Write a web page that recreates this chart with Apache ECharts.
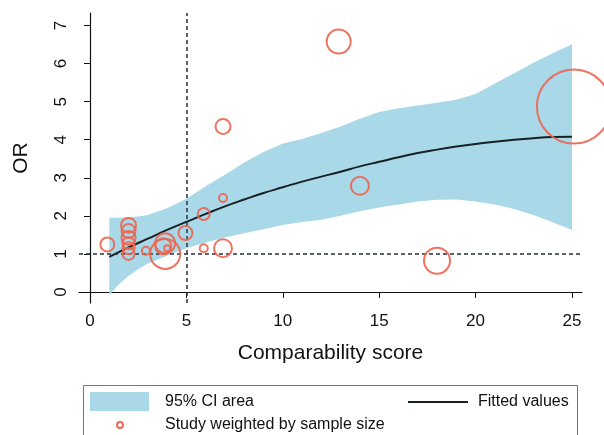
<!DOCTYPE html>
<html>
<head>
<meta charset="utf-8">
<title>OR vs comparability score</title>
<script src="https://cdn.jsdelivr.net/npm/echarts@6/dist/echarts.min.js"></script>
<style>
  html, body { margin: 0; padding: 0; background: #fff; }
  #chart { width: 604px; height: 435px; }
</style>
</head>
<body>
<div id="chart"></div>
<script>
// 95% CI band of the fitted curve
var ciX = [1, 1.5, 2, 2.5, 3, 4, 5, 6, 7, 8, 9, 10, 11, 12, 13, 14, 15, 16, 17, 18, 19, 20, 21, 22, 23, 24, 25];
var ciLower = [-0.08, 0.2, 0.42, 0.6, 0.75, 0.95, 1.15, 1.3, 1.43, 1.54, 1.65, 1.76, 1.84, 1.9, 2.0, 2.12, 2.22, 2.3, 2.38, 2.42, 2.43, 2.38, 2.3, 2.18, 2.02, 1.83, 1.63];
var ciUpper = [1.95, 1.95, 1.96, 1.98, 2.02, 2.2, 2.45, 2.78, 3.08, 3.4, 3.68, 3.9, 4.02, 4.18, 4.35, 4.55, 4.73, 4.83, 4.9, 4.97, 5.05, 5.2, 5.48, 5.75, 6.02, 6.27, 6.51];

// fitted values
var fitX = [1, 2, 3, 4, 5, 6, 7, 8, 9, 10, 11, 12, 13, 14, 15, 16, 17, 18, 19, 20, 21, 22, 23, 24, 25];
var fitY = [0.92, 1.17, 1.4, 1.63, 1.84, 2.05, 2.25, 2.43, 2.6, 2.75, 2.9, 3.03, 3.16, 3.3, 3.42, 3.54, 3.65, 3.74, 3.82, 3.89, 3.95, 4.0, 4.04, 4.07, 4.08];

// studies: score, OR, relative weight (sample size)
var studyScore = [0.9, 2, 2, 2, 2, 2, 2, 2.9, 3.9, 3.9, 3.8, 4.0, 4.95, 5.9, 5.9, 6.9, 6.9, 6.9, 12.9, 14, 18, 25.1];
var studyOR = [1.25, 1.75, 1.6, 1.42, 1.28, 1.15, 1.0, 1.08, 1.0, 1.28, 1.2, 1.15, 1.55, 1.15, 2.05, 2.47, 1.15, 4.35, 6.58, 2.79, 0.82, 4.87];
var studyWeight = [49, 56, 49, 49, 36, 36, 36, 16, 225, 100, 64, 9, 49, 16, 36, 16, 81, 56, 144, 81, 169, 1369];

var xTicks = [0, 5, 10, 15, 20, 25];
var yTicks = [0, 1, 2, 3, 4, 5, 6, 7];
var refX = 5;
var refY = 1;

var chart = echarts.init(document.getElementById('chart'));
var font = 'Liberation Sans, Arial, Helvetica, sans-serif';
var bandColor = '#a9d8e8';
var circleColor = '#ec6550';

var bandData = ciX.map(function (x, i) { return [x, ciLower[i], ciUpper[i]]; });
var fitData = fitX.map(function (x, i) { return [x, fitY[i]]; });
var studyData = studyScore.map(function (x, i) { return [x, studyOR[i], studyWeight[i]]; });

var option = {
    animation: false,
    backgroundColor: '#fff',
    textStyle: { fontFamily: font },
    grid: { left: 79, right: 22, top: 13, bottom: 132 },
    xAxis: {
        type: 'value',
        min: -0.57,
        max: 25.52,
        name: 'Comparability score',
        nameLocation: 'middle',
        nameGap: 40,
        nameTextStyle: { fontSize: 21, color: '#111', fontFamily: font },
        splitLine: { show: false },
        axisLine: { show: true, lineStyle: { color: '#111', width: 1.2 } },
        axisTick: { show: true, length: 6, customValues: xTicks, lineStyle: { color: '#111' } },
        axisLabel: { customValues: xTicks, fontSize: 17, color: '#111', margin: 10, fontFamily: font }
    },
    yAxis: {
        type: 'value',
        min: -0.29,
        max: 7.33,
        name: 'OR',
        nameLocation: 'middle',
        nameRotate: 90,
        nameGap: 47,
        nameTextStyle: { fontSize: 21, color: '#111', fontFamily: font },
        splitLine: { show: false },
        axisLine: { show: true, lineStyle: { color: '#111', width: 1.2 } },
        axisTick: { show: true, length: 6, customValues: yTicks, lineStyle: { color: '#111' } },
        axisLabel: { customValues: yTicks, rotate: 90, fontSize: 17, color: '#111', margin: 9, fontFamily: font }
    },
    series: [
        {
            name: '95% CI area',
            type: 'custom',
            data: bandData,
            encode: { x: 0, y: [1, 2] },
            z: 1,
            renderItem: function (params, api) {
                if (params.dataIndex !== 0) return;
                var pts = [];
                for (var i = 0; i < bandData.length; i++) {
                    pts.push(api.coord([bandData[i][0], bandData[i][2]]));
                }
                for (var j = bandData.length - 1; j >= 0; j--) {
                    pts.push(api.coord([bandData[j][0], bandData[j][1]]));
                }
                return { type: 'polygon', shape: { points: pts }, style: { fill: bandColor } };
            }
        },
        {
            name: 'refs',
            type: 'line',
            data: [],
            z: 3,
            markLine: {
                silent: true,
                symbol: 'none',
                label: { show: false },
                lineStyle: { type: [4, 3], color: '#26323a', width: 1.5 },
                data: [{ xAxis: refX }, { yAxis: refY }]
            }
        },
        {
            name: 'Fitted values',
            type: 'line',
            data: fitData,
            smooth: true,
            showSymbol: false,
            z: 4,
            lineStyle: { color: '#172222', width: 2 }
        },
        {
            name: 'Study weighted by sample size',
            type: 'scatter',
            data: studyData,
            clip: false,
            z: 5,
            symbol: 'circle',
            symbolSize: function (v) { return 2 * Math.sqrt(v[2]); },
            itemStyle: { color: 'rgba(0,0,0,0)', borderColor: circleColor, borderWidth: 2, opacity: 0.9 }
        }
    ],
    graphic: [
        { type: 'rect', shape: { x: 83.5, y: 385.5, width: 494, height: 60 }, style: { fill: '#fff', stroke: '#777', lineWidth: 1 } },
        { type: 'rect', shape: { x: 90, y: 392, width: 59, height: 19 }, style: { fill: bandColor } },
        { type: 'text', x: 165, y: 402, style: { text: '95% CI area', font: '16px ' + font, fill: '#111', textVerticalAlign: 'middle' } },
        { type: 'line', shape: { x1: 408, y1: 402, x2: 468, y2: 402 }, style: { stroke: '#172222', lineWidth: 2 } },
        { type: 'text', x: 478, y: 402, style: { text: 'Fitted values', font: '16px ' + font, fill: '#111', textVerticalAlign: 'middle' } },
        { type: 'circle', shape: { cx: 120, cy: 425, r: 3 }, style: { fill: 'none', stroke: circleColor, lineWidth: 2 } },
        { type: 'text', x: 165, y: 425, style: { text: 'Study weighted by sample size', font: '16px ' + font, fill: '#111', textVerticalAlign: 'middle' } }
    ]
};

chart.setOption(option);
window.addEventListener('resize', function () { chart.resize(); });
</script>
</body>
</html>
